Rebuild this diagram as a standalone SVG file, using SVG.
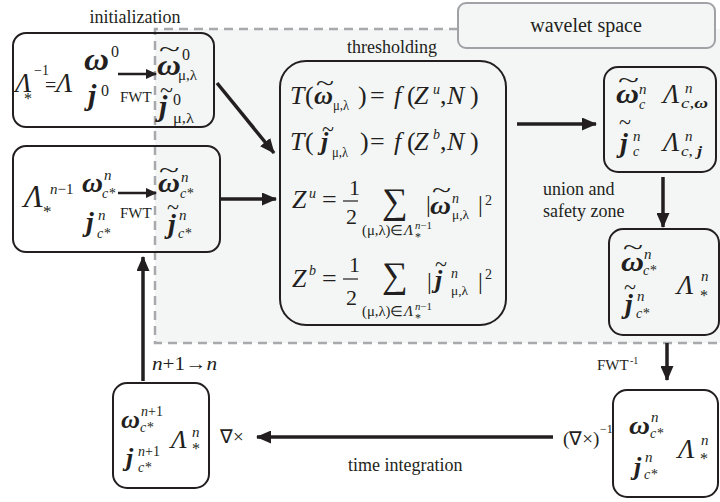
<svg xmlns="http://www.w3.org/2000/svg" width="720" height="502" viewBox="0 0 720 502">
<style>
text{font-family:"Liberation Serif","Times New Roman",serif;fill:#231f20}
.bi{font-weight:bold;font-style:italic}
.i{font-style:italic}
.tl{font-size:20px}
.box{fill:none;stroke:#231f20;stroke-width:2}
.arr{stroke:#231f20;stroke-width:3.5;fill:none;marker-end:url(#ah)}
.arr2{stroke:#231f20;stroke-width:2.5;fill:none;marker-end:url(#ah2)}
.dash{stroke:#a7a9ac;stroke-width:2.5;stroke-dasharray:9 6;fill:none}
.bar{stroke:#231f20;stroke-width:1.2}
</style>
<defs>
<marker id="ah" markerUnits="userSpaceOnUse" markerWidth="15" markerHeight="13" refX="14" refY="6.5" orient="auto"><path d="M0,0 L15,6.5 L0,13 z" fill="#231f20"/></marker>
<marker id="ah2" markerUnits="userSpaceOnUse" markerWidth="11" markerHeight="10" refX="10" refY="5" orient="auto"><path d="M0,0 L11,5 L0,10 z" fill="#231f20"/></marker>
</defs>
<rect width="720" height="502" fill="#ffffff"/>
<g id="wavelet-region">
<rect x="155" y="29" width="565" height="314" fill="#f4f6f6"/>
<path class="dash" d="M458,29 H155 V343 H720"/>
<rect x="458" y="3" width="257" height="45" rx="8" fill="#f4f6f6" stroke="#a0a2a5" stroke-width="2"/>
<text x="586" y="32" font-size="20" text-anchor="middle">wavelet space</text>
</g>
<g id="labels">
<text x="135" y="23" font-size="18" text-anchor="middle">initialization</text>
<text x="392" y="53" font-size="18" text-anchor="middle">thresholding</text>
<text x="543" y="195" font-size="18">union and</text>
<text x="543" y="217" font-size="18">safety zone</text>
<text x="597" y="370" font-size="15">FWT</text><text x="630" y="364" font-size="10">-1</text>
<text x="563" y="445" font-size="19">(∇×)</text><text x="600" y="433" font-size="12">−1</text>
<text x="220" y="443" font-size="19">∇×</text>
<text x="348" y="471" font-size="18">time integration</text>
<text x="152" y="370" font-size="19" textLength="65" lengthAdjust="spacingAndGlyphs"><tspan class="i">n</tspan>+1→<tspan class="i">n</tspan></text>
</g>
<g id="connectors">
<path class="arr" d="M217,83 L274,153"/>
<path class="arr" d="M221,199 L276,199"/>
<path class="arr" d="M517,124 L596,124"/>
<path class="arr" d="M663,177 L663,227"/>
<path class="arr" d="M667,343 L667,380"/>
<path class="arr" d="M553,437 L257,437"/>
<path class="arr" d="M143,381 L143,257"/>
</g>
<g id="init">
<rect class="box" x="13" y="33" width="201" height="94" rx="13"/>
<text class="i" x="15" y="92" font-size="27">Λ</text><text x="34" y="75" font-size="14">−1</text><text x="24" y="104" font-size="16">*</text>
<text x="45" y="92" font-size="20">=</text><text class="i" x="56" y="92" font-size="27">Λ</text>
<text class="bi" x="84" y="70" font-size="32" textLength="25" lengthAdjust="spacingAndGlyphs">ω</text><text x="111" y="57" font-size="16">0</text>
<text class="bi" x="88" y="105" font-size="30">j</text><text x="101" y="96" font-size="16">0</text>
<path class="arr2" d="M118,74 L156,74"/>
<text x="120" y="102" font-size="15">FWT</text>
<text class="tl" x="159" y="56" textLength="21" lengthAdjust="spacingAndGlyphs">~</text>
<text class="bi" x="157" y="75" font-size="30" textLength="24" lengthAdjust="spacingAndGlyphs">ω</text><text x="182" y="60" font-size="16">0</text><text x="178" y="80" font-size="14" textLength="19" lengthAdjust="spacingAndGlyphs">μ,λ</text>
<text class="tl" x="160" y="97" textLength="13" lengthAdjust="spacingAndGlyphs">~</text>
<text class="bi" x="159" y="116" font-size="30">j</text><text x="173" y="105" font-size="16">0</text><text x="173" y="123" font-size="14" textLength="21" lengthAdjust="spacingAndGlyphs">μ,λ</text>
</g>
<g id="iter">
<rect class="box" x="13" y="146" width="207" height="106" rx="13"/>
<text class="i" x="24" y="207" font-size="31">Λ</text><text x="50" y="194" font-size="15"><tspan class="i">n</tspan>−1</text><text x="43" y="217" font-size="17">*</text>
<text class="bi" x="82" y="192" font-size="28" textLength="21" lengthAdjust="spacingAndGlyphs">ω</text><text class="i" x="104" y="180" font-size="15">n</text><text class="i" x="102" y="198" font-size="14">c*</text>
<text class="bi" x="86" y="231" font-size="28">j</text><text class="i" x="98" y="220" font-size="15">n</text><text class="i" x="97" y="238" font-size="14">c*</text>
<path class="arr2" d="M118,193 L156,193"/>
<text x="120" y="218" font-size="15">FWT</text>
<text class="tl" x="159" y="177" textLength="20" lengthAdjust="spacingAndGlyphs">~</text>
<text class="bi" x="158" y="192" font-size="28" textLength="22" lengthAdjust="spacingAndGlyphs">ω</text><text class="i" x="181" y="182" font-size="15">n</text><text class="i" x="180" y="198" font-size="14">c*</text>
<text class="tl" x="167" y="214" textLength="12" lengthAdjust="spacingAndGlyphs">~</text>
<text class="bi" x="168" y="233" font-size="28">j</text><text class="i" x="179" y="220" font-size="15">n</text><text class="i" x="178" y="238" font-size="14">c*</text>
</g>
<g id="threshold">
<rect class="box" x="280" y="61" width="226" height="264" rx="26"/>
<text class="i" x="290" y="104" font-size="26">T</text><text x="305" y="104" font-size="26">(</text>
<text class="tl" x="316" y="90" textLength="18" lengthAdjust="spacingAndGlyphs">~</text>
<text class="bi" x="314" y="104" font-size="26" textLength="19" lengthAdjust="spacingAndGlyphs">ω</text><text x="333" y="110" font-size="14" textLength="16" lengthAdjust="spacingAndGlyphs">μ,λ</text>
<text x="358" y="104" font-size="26">)</text><text x="370" y="104" font-size="26">=</text><text class="i" x="394" y="104" font-size="26">f</text><text x="407" y="104" font-size="26">(</text><text class="i" x="414" y="104" font-size="26">Z</text><text class="i" x="433" y="94" font-size="14">u</text><text x="440" y="104" font-size="26">,</text><text class="i" x="447" y="104" font-size="26">N</text><text x="470" y="104" font-size="26">)</text>
<text class="i" x="290" y="150" font-size="26">T</text><text x="305" y="150" font-size="26">(</text>
<text class="tl" x="322" y="136" textLength="12" lengthAdjust="spacingAndGlyphs">~</text>
<text class="bi" x="321" y="150" font-size="26">j</text><text x="332" y="157" font-size="14" textLength="16" lengthAdjust="spacingAndGlyphs">μ,λ</text>
<text x="360" y="150" font-size="26">)</text><text x="370" y="150" font-size="26">=</text><text class="i" x="394" y="150" font-size="26">f</text><text x="407" y="150" font-size="26">(</text><text class="i" x="414" y="150" font-size="26">Z</text><text class="i" x="433" y="139" font-size="14">b</text><text x="440" y="150" font-size="26">,</text><text class="i" x="447" y="150" font-size="26">N</text><text x="470" y="150" font-size="26">)</text>
<text class="i" x="292" y="208" font-size="26">Z</text><text class="i" x="309" y="198" font-size="14">u</text><text x="322" y="208" font-size="26">=</text>
<text x="349" y="195" font-size="22">1</text><path class="bar" d="M343,201 H358"/><text x="346" y="224" font-size="22">2</text>
<text x="382" y="213" font-size="36">∑</text>
<text x="362" y="235" font-size="14" textLength="41" lengthAdjust="spacingAndGlyphs">(μ,λ)∈</text><text class="i" x="404" y="235" font-size="15">Λ</text><text x="415" y="229" font-size="10" textLength="17" lengthAdjust="spacingAndGlyphs"><tspan class="i">n</tspan>−1</text><text x="415" y="241" font-size="12">*</text>
<text x="426" y="212" font-size="24">|</text>
<text class="tl" x="432" y="197" textLength="19" lengthAdjust="spacingAndGlyphs">~</text>
<text class="bi" x="430" y="214" font-size="26" textLength="21" lengthAdjust="spacingAndGlyphs">ω</text><text class="i" x="452" y="203" font-size="14">n</text><text x="452" y="219" font-size="13" textLength="17" lengthAdjust="spacingAndGlyphs">μ,λ</text>
<text x="478" y="212" font-size="24">|</text><text x="485" y="205" font-size="14">2</text>
<text class="i" x="292" y="287" font-size="26">Z</text><text class="i" x="309" y="275" font-size="14">b</text><text x="322" y="287" font-size="26">=</text>
<text x="349" y="272" font-size="22">1</text><path class="bar" d="M343,279 H358"/><text x="346" y="305" font-size="22">2</text>
<text x="382" y="287" font-size="36">∑</text>
<text x="362" y="316" font-size="14" textLength="41" lengthAdjust="spacingAndGlyphs">(μ,λ)∈</text><text class="i" x="404" y="316" font-size="15">Λ</text><text x="415" y="310" font-size="10" textLength="17" lengthAdjust="spacingAndGlyphs"><tspan class="i">n</tspan>−1</text><text x="415" y="322" font-size="12">*</text>
<text x="427" y="289" font-size="24">|</text>
<text class="tl" x="435" y="271" textLength="12" lengthAdjust="spacingAndGlyphs">~</text>
<text class="bi" x="435" y="288" font-size="26">j</text><text class="i" x="451" y="278" font-size="14">n</text><text x="451" y="295" font-size="13" textLength="17" lengthAdjust="spacingAndGlyphs">μ,λ</text>
<text x="478" y="289" font-size="24">|</text><text x="485" y="279" font-size="14">2</text>
</g>
<g id="coarse">
<rect class="box" x="604" y="67" width="112" height="105" rx="14"/>
<text class="tl" x="618" y="87" textLength="21" lengthAdjust="spacingAndGlyphs">~</text>
<text class="bi" x="616" y="103" font-size="28" textLength="23" lengthAdjust="spacingAndGlyphs">ω</text><text class="i" x="639" y="94" font-size="15">n</text><text class="i" x="639" y="109" font-size="14">c</text>
<text class="i" x="663" y="103" font-size="27">Λ</text><text class="i" x="685" y="93" font-size="15">n</text><text x="681" y="108" font-size="14" textLength="27" lengthAdjust="spacingAndGlyphs"><tspan class="i">c</tspan>,<tspan class="bi">ω</tspan></text>
<text class="tl" x="619" y="129" textLength="12" lengthAdjust="spacingAndGlyphs">~</text>
<text class="bi" x="620" y="152" font-size="28">j</text><text class="i" x="633" y="141" font-size="15">n</text><text class="i" x="633" y="156" font-size="14">c</text>
<text class="i" x="663" y="151" font-size="27">Λ</text><text class="i" x="685" y="141" font-size="15">n</text><text x="681" y="156" font-size="14" textLength="21" lengthAdjust="spacingAndGlyphs"><tspan class="i">c</tspan>, <tspan class="bi">j</tspan></text>
</g>
<g id="safety">
<rect class="box" x="609" y="229" width="110" height="106" rx="14"/>
<text class="tl" x="623" y="254" textLength="20" lengthAdjust="spacingAndGlyphs">~</text>
<text class="bi" x="621" y="271" font-size="28" textLength="23" lengthAdjust="spacingAndGlyphs">ω</text><text class="i" x="644" y="259" font-size="15">n</text><text class="i" x="643" y="275" font-size="14">c*</text>
<text class="tl" x="624" y="294" textLength="12" lengthAdjust="spacingAndGlyphs">~</text>
<text class="bi" x="625" y="313" font-size="28">j</text><text class="i" x="637" y="301" font-size="15">n</text><text class="i" x="636" y="318" font-size="14">c*</text>
<text class="i" x="677" y="294" font-size="27">Λ</text><text class="i" x="701" y="281" font-size="15">n</text><text x="700" y="301" font-size="16">*</text>
</g>
<g id="physical">
<rect class="box" x="613" y="390" width="105" height="107" rx="14"/>
<text class="bi" x="629" y="434" font-size="26" textLength="21" lengthAdjust="spacingAndGlyphs">ω</text><text class="i" x="651" y="422" font-size="15">n</text><text class="i" x="650" y="438" font-size="14">c*</text>
<text class="bi" x="634" y="475" font-size="26">j</text><text class="i" x="645" y="462" font-size="15">n</text><text class="i" x="644" y="479" font-size="14">c*</text>
<text class="i" x="678" y="458" font-size="27">Λ</text><text class="i" x="701" y="445" font-size="15">n</text><text x="700" y="464" font-size="16">*</text>
</g>
<g id="next">
<rect class="box" x="113" y="383" width="96" height="105" rx="14"/>
<text class="bi" x="121" y="428" font-size="26" textLength="19" lengthAdjust="spacingAndGlyphs">ω</text><text x="141" y="416" font-size="14"><tspan class="i">n</tspan>+1</text><text class="i" x="140" y="432" font-size="14">c*</text>
<text class="bi" x="126" y="466" font-size="26">j</text><text x="138" y="456" font-size="14"><tspan class="i">n</tspan>+1</text><text class="i" x="138" y="472" font-size="14">c*</text>
<text class="i" x="171" y="448" font-size="26">Λ</text><text class="i" x="192" y="437" font-size="15">n</text><text x="192" y="454" font-size="16">*</text>
</g>
</svg>
